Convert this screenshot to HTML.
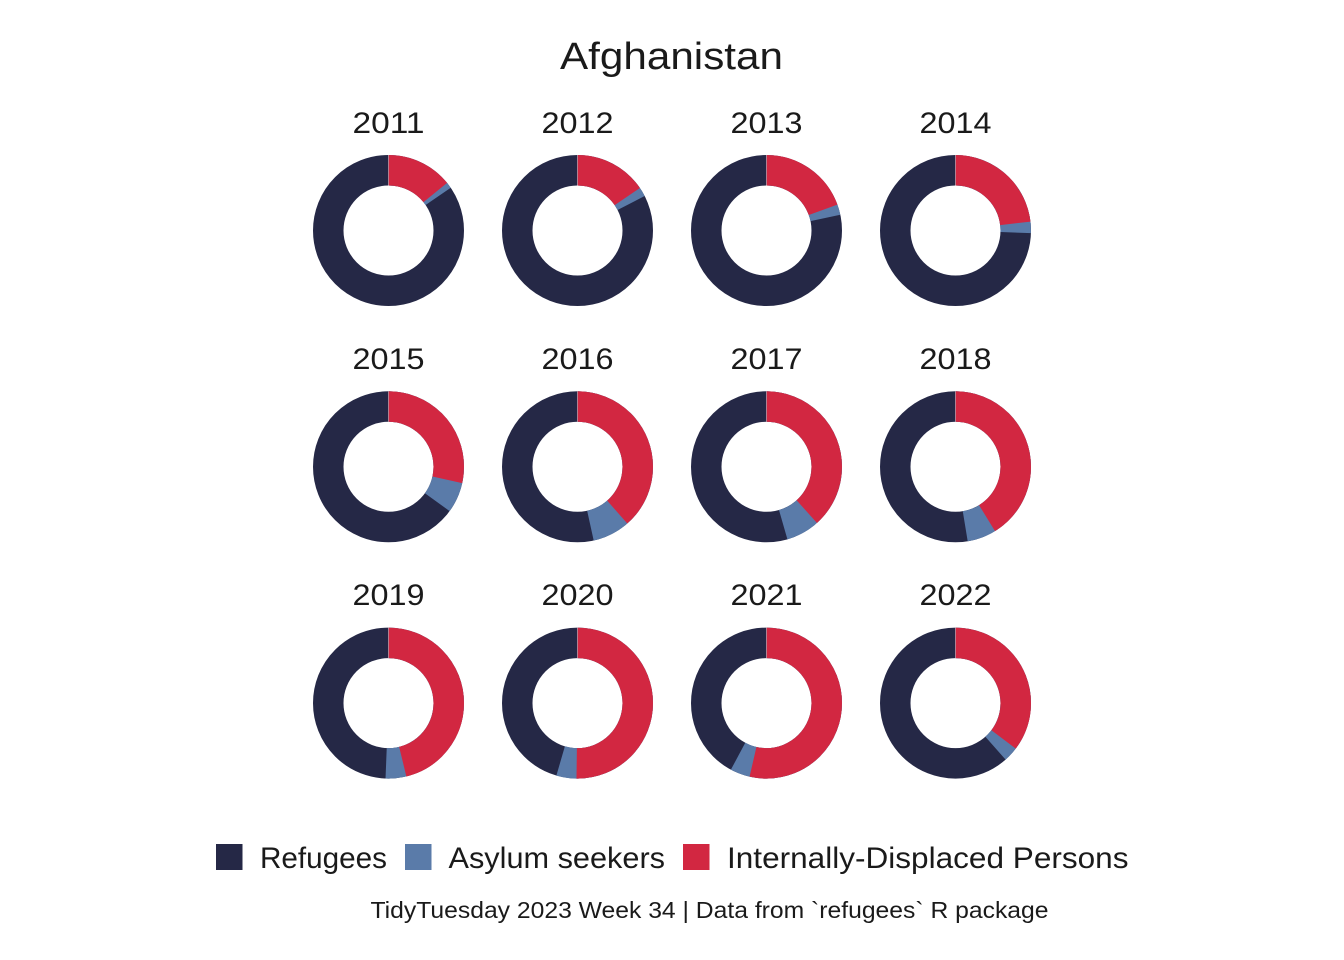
<!DOCTYPE html>
<html>
<head>
<meta charset="utf-8">
<style>
  html,body{margin:0;padding:0;background:#fff;}
  svg{display:block;}
  text{font-family:"Liberation Sans",sans-serif;fill:#1a1a1a;}
</style>
</head>
<body>
<svg width="1344" height="960" viewBox="0 0 1344 960" xmlns="http://www.w3.org/2000/svg">
  <rect width="1344" height="960" fill="#fff"/>
  <text x="671.5" y="69" font-size="38" text-anchor="middle" textLength="223" lengthAdjust="spacingAndGlyphs">Afghanistan</text>

  <defs>
    <style>
      .nv{fill:none;stroke:#252846;stroke-width:30.5;}
      .bl{fill:none;stroke:#5A7BA9;stroke-width:30.5;}
      .rd{fill:none;stroke:#D22741;stroke-width:30.5;}
      .sep{stroke:#ffffff;stroke-width:0.7;stroke-opacity:0.6;}
      .yr{font-size:30px;}
    </style>
  </defs>

  <!-- Row 1 -->
  <g transform="translate(388.5,230.5)">
    <circle r="60.25" class="nv"/>
    <circle r="60.25" class="bl" pathLength="360" stroke-dasharray="55.6 400" transform="rotate(-90)"/>
    <circle r="60.25" class="rd" pathLength="360" stroke-dasharray="51 400" transform="rotate(-90)"/>
    <line class="sep" x1="0" y1="-45" x2="0" y2="-75.5"/>
  </g>
  <text class="yr" x="388.5" y="133" text-anchor="middle" textLength="72" lengthAdjust="spacingAndGlyphs">2011</text>

  <g transform="translate(577.5,230.5)">
    <circle r="60.25" class="nv"/>
    <circle r="60.25" class="bl" pathLength="360" stroke-dasharray="62.9 400" transform="rotate(-90)"/>
    <circle r="60.25" class="rd" pathLength="360" stroke-dasharray="55.8 400" transform="rotate(-90)"/>
    <line class="sep" x1="0" y1="-45" x2="0" y2="-75.5"/>
  </g>
  <text class="yr" x="577.5" y="133" text-anchor="middle" textLength="72" lengthAdjust="spacingAndGlyphs">2012</text>

  <g transform="translate(766.5,230.5)">
    <circle r="60.25" class="nv"/>
    <circle r="60.25" class="bl" pathLength="360" stroke-dasharray="78 400" transform="rotate(-90)"/>
    <circle r="60.25" class="rd" pathLength="360" stroke-dasharray="70 400" transform="rotate(-90)"/>
    <line class="sep" x1="0" y1="-45" x2="0" y2="-75.5"/>
  </g>
  <text class="yr" x="766.5" y="133" text-anchor="middle" textLength="72" lengthAdjust="spacingAndGlyphs">2013</text>

  <g transform="translate(955.5,230.5)">
    <circle r="60.25" class="nv"/>
    <circle r="60.25" class="bl" pathLength="360" stroke-dasharray="92.1 400" transform="rotate(-90)"/>
    <circle r="60.25" class="rd" pathLength="360" stroke-dasharray="83.3 400" transform="rotate(-90)"/>
    <line class="sep" x1="0" y1="-45" x2="0" y2="-75.5"/>
  </g>
  <text class="yr" x="955.5" y="133" text-anchor="middle" textLength="72" lengthAdjust="spacingAndGlyphs">2014</text>

  <!-- Row 2 -->
  <g transform="translate(388.5,466.8)">
    <circle r="60.25" class="nv"/>
    <circle r="60.25" class="bl" pathLength="360" stroke-dasharray="126.1 400" transform="rotate(-90)"/>
    <circle r="60.25" class="rd" pathLength="360" stroke-dasharray="102.6 400" transform="rotate(-90)"/>
    <line class="sep" x1="0" y1="-45" x2="0" y2="-75.5"/>
  </g>
  <text class="yr" x="388.5" y="369" text-anchor="middle" textLength="72" lengthAdjust="spacingAndGlyphs">2015</text>

  <g transform="translate(577.5,466.8)">
    <circle r="60.25" class="nv"/>
    <circle r="60.25" class="bl" pathLength="360" stroke-dasharray="167.8 400" transform="rotate(-90)"/>
    <circle r="60.25" class="rd" pathLength="360" stroke-dasharray="138.9 400" transform="rotate(-90)"/>
    <line class="sep" x1="0" y1="-45" x2="0" y2="-75.5"/>
  </g>
  <text class="yr" x="577.5" y="369" text-anchor="middle" textLength="72" lengthAdjust="spacingAndGlyphs">2016</text>

  <g transform="translate(766.5,466.8)">
    <circle r="60.25" class="nv"/>
    <circle r="60.25" class="bl" pathLength="360" stroke-dasharray="164.1 400" transform="rotate(-90)"/>
    <circle r="60.25" class="rd" pathLength="360" stroke-dasharray="138.2 400" transform="rotate(-90)"/>
    <line class="sep" x1="0" y1="-45" x2="0" y2="-75.5"/>
  </g>
  <text class="yr" x="766.5" y="369" text-anchor="middle" textLength="72" lengthAdjust="spacingAndGlyphs">2017</text>

  <g transform="translate(955.5,466.8)">
    <circle r="60.25" class="nv"/>
    <circle r="60.25" class="bl" pathLength="360" stroke-dasharray="170.9 400" transform="rotate(-90)"/>
    <circle r="60.25" class="rd" pathLength="360" stroke-dasharray="148.6 400" transform="rotate(-90)"/>
    <line class="sep" x1="0" y1="-45" x2="0" y2="-75.5"/>
  </g>
  <text class="yr" x="955.5" y="369" text-anchor="middle" textLength="72" lengthAdjust="spacingAndGlyphs">2018</text>

  <!-- Row 3 -->
  <g transform="translate(388.5,703.1)">
    <circle r="60.25" class="nv"/>
    <circle r="60.25" class="bl" pathLength="360" stroke-dasharray="182.5 400" transform="rotate(-90)"/>
    <circle r="60.25" class="rd" pathLength="360" stroke-dasharray="166.5 400" transform="rotate(-90)"/>
    <line class="sep" x1="0" y1="-45" x2="0" y2="-75.5"/>
  </g>
  <text class="yr" x="388.5" y="605" text-anchor="middle" textLength="72" lengthAdjust="spacingAndGlyphs">2019</text>

  <g transform="translate(577.5,703.1)">
    <circle r="60.25" class="nv"/>
    <circle r="60.25" class="bl" pathLength="360" stroke-dasharray="196.5 400" transform="rotate(-90)"/>
    <circle r="60.25" class="rd" pathLength="360" stroke-dasharray="181 400" transform="rotate(-90)"/>
    <line class="sep" x1="0" y1="-45" x2="0" y2="-75.5"/>
  </g>
  <text class="yr" x="577.5" y="605" text-anchor="middle" textLength="72" lengthAdjust="spacingAndGlyphs">2020</text>

  <g transform="translate(766.5,703.1)">
    <circle r="60.25" class="nv"/>
    <circle r="60.25" class="bl" pathLength="360" stroke-dasharray="208.4 400" transform="rotate(-90)"/>
    <circle r="60.25" class="rd" pathLength="360" stroke-dasharray="193.2 400" transform="rotate(-90)"/>
    <line class="sep" x1="0" y1="-45" x2="0" y2="-75.5"/>
  </g>
  <text class="yr" x="766.5" y="605" text-anchor="middle" textLength="72" lengthAdjust="spacingAndGlyphs">2021</text>

  <g transform="translate(955.5,703.1)">
    <circle r="60.25" class="nv"/>
    <circle r="60.25" class="bl" pathLength="360" stroke-dasharray="138.6 400" transform="rotate(-90)"/>
    <circle r="60.25" class="rd" pathLength="360" stroke-dasharray="127.2 400" transform="rotate(-90)"/>
    <line class="sep" x1="0" y1="-45" x2="0" y2="-75.5"/>
  </g>
  <text class="yr" x="955.5" y="605" text-anchor="middle" textLength="72" lengthAdjust="spacingAndGlyphs">2022</text>

  <!-- Legend -->
  <rect x="216" y="844" width="26.5" height="26" fill="#252846"/>
  <text x="260" y="868" font-size="30" textLength="127" lengthAdjust="spacingAndGlyphs">Refugees</text>
  <rect x="405" y="844" width="26.5" height="26" fill="#5A7BA9"/>
  <text x="448.5" y="868" font-size="30" textLength="216.5" lengthAdjust="spacingAndGlyphs">Asylum seekers</text>
  <rect x="683" y="844" width="26.5" height="26" fill="#D22741"/>
  <text x="727" y="868" font-size="30" textLength="401.5" lengthAdjust="spacingAndGlyphs">Internally-Displaced Persons</text>

  <!-- Caption -->
  <text x="370.5" y="918" font-size="23" textLength="678" lengthAdjust="spacingAndGlyphs">TidyTuesday 2023 Week 34 | Data from `refugees` R package</text>
</svg>
</body>
</html>
